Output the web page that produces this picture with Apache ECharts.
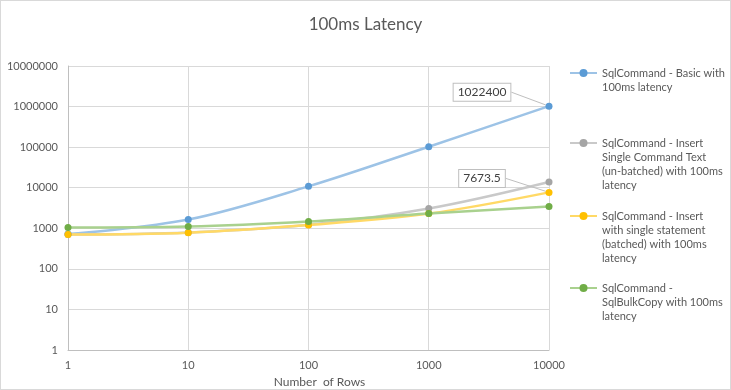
<!DOCTYPE html>
<html><head><meta charset="utf-8">
<script src="https://cdn.jsdelivr.net/npm/echarts@6/dist/echarts.min.js"></script>
<style>html,body{margin:0;padding:0;background:#fff}#c{position:absolute;left:0;top:0;width:731px;height:390px}#b{position:absolute;left:0;top:0;width:731px;height:390px;box-sizing:border-box;border:1px solid #d9d9d9;pointer-events:none}</style>
</head><body><div id="c"></div><div id="b"></div>
<script>
const rows = [1, 10, 100, 1000, 10000];
const basic = [720, 1640, 10800, 102400, 1022400];
const unbatched = [700, 790, 1220, 3060, 13800];
const batched = [700, 780, 1200, 2300, 7673.5];
const bulkCopy = [1040, 1100, 1460, 2300, 3440];
const seriesNames = [
  'SqlCommand - Basic with 100ms latency',
  'SqlCommand - Insert Single Command Text (un-batched) with 100ms latency',
  'SqlCommand - Insert with single statement (batched) with 100ms latency',
  'SqlCommand - SqlBulkCopy with 100ms latency'
];
const legendLines = [
  ['SqlCommand - Basic with', '100ms latency'],
  ['SqlCommand - Insert', 'Single Command Text', '(un-batched) with 100ms', 'latency'],
  ['SqlCommand - Insert', 'with single statement', '(batched) with 100ms', 'latency'],
  ['SqlCommand -', 'SqlBulkCopy with 100ms', 'latency']
];
const yTicks = ['1','10','100','1000','10000','100000','1000000','10000000'];
const labelIndex = [4, null, 4, null];

const markerColors = ['#5b9bd5', '#a5a5a5', '#ffc000', '#70ad47'];
const lineColors = ['#9dc3e6', '#c9c9c9', '#ffd966', '#a9d18e'];
const allData = [basic, unbatched, batched, bulkCopy];
const LH = 14.3;
const iconY = [73, 143, 216, 288];
const FONT = 'Lato';

const series = allData.map((vals, si) => ({
  name: seriesNames[si],
  type: 'line',
  smooth: 0.35,
  symbol: 'circle',
  symbolSize: 7,
  itemStyle: { color: markerColors[si] },
  lineStyle: { color: lineColors[si], width: 2.5 },
  data: vals.map((v, i) => {
    const item = { value: [rows[i], v] };
    if (labelIndex[si] === i) {
      item.label = {
        show: true, position: 'inside',
        formatter: () => String(v),
        backgroundColor: '#fff', borderColor: '#bfbfbf', borderWidth: 1,
        padding: [3, 4, 2, 4], color: '#404040', fontSize: 12, fontFamily: FONT
      };
      item.labelLine = { show: true, lineStyle: { color: '#bfbfbf', width: 1 } };
    }
    return item;
  }),
  labelLayout: { dx: -67, dy: -14 }
}));

const legends = seriesNames.map((name, i) => {
  const n = legendLines[i].length;
  return {
    data: [name],
    orient: 'vertical',
    left: 569,
    top: iconY[i] - (2 * n - 1) * LH / 2,
    padding: 0,
    itemWidth: 27,
    itemHeight: 10,
    itemGap: 0,
    textStyle: { color: '#595959', fontSize: 11, fontFamily: FONT, lineHeight: LH },
    formatter: () => '\n'.repeat(n - 1) + legendLines[i].join('\n')
  };
});

const chart = echarts.init(document.getElementById('c'), null, { renderer: 'canvas' });
chart.setOption({
  animation: false,
  backgroundColor: '#fff',
  textStyle: { fontFamily: FONT },
  title: {
    text: '100ms Latency', left: 'center', top: 11,
    textStyle: { fontSize: 17, fontWeight: 'normal', color: '#595959', fontFamily: FONT }
  },
  legend: legends,
  grid: { left: 68, right: 182, top: 66, bottom: 40, containLabel: false, outerBoundsMode: 'none' },
  xAxis: {
    type: 'log', logBase: 10, min: 1, max: 10000,
    name: 'Number  of Rows', nameLocation: 'middle', nameGap: 19,
    nameTextStyle: { color: '#595959', fontSize: 12, fontFamily: FONT, padding: [0, 0, 0, 22] },
    axisLine: { lineStyle: { color: '#bfbfbf' } },
    axisTick: { show: false },
    axisLabel: { color: '#595959', fontSize: 11, fontFamily: FONT, margin: 10,
      formatter: v => String(Math.round(v)) },
    splitLine: { show: true, lineStyle: { color: '#d9d9d9' } }
  },
  yAxis: {
    type: 'log', logBase: 10, min: 1, max: 10000000, splitNumber: 7,
    name: 'Time', nameLocation: 'middle', nameGap: 48,
    nameTextStyle: { color: '#595959', fontSize: 12, fontFamily: FONT },
    axisLine: { show: true, lineStyle: { color: '#bfbfbf' } },
    axisTick: { show: false },
    axisLabel: { color: '#595959', fontSize: 11, fontFamily: FONT, margin: 10,
      formatter: v => yTicks[Math.round(Math.log10(v))] },
    splitLine: { show: true, lineStyle: { color: '#d9d9d9' } }
  },
  series: series
});
</script>
</body></html>
